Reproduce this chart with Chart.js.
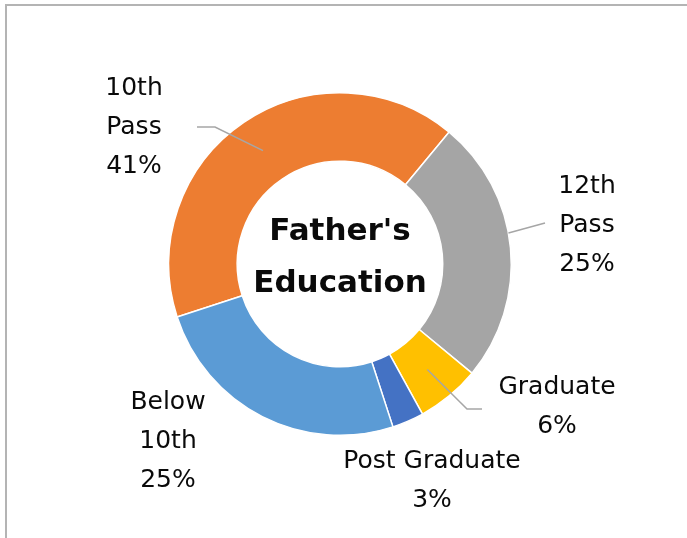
<!DOCTYPE html>
<html>
<head>
<meta charset="utf-8">
<script src="https://cdn.jsdelivr.net/npm/chart.js@4"></script>
<style>
  html, body { margin: 0; padding: 0; background: #fff; }
  #wrap { position: relative; width: 687px; height: 538px; overflow: hidden; }
  #frame { position: absolute; left: 5px; top: 4px; right: -10px; bottom: -10px;
           border-top: 2px solid #b4b4b4; border-left: 2px solid #b4b4b4; pointer-events: none; }
  canvas { position: absolute; left: 0; top: 0; }
</style>
</head>
<body>
<div id="wrap">
  <canvas id="c" width="687" height="538"></canvas>
  <div id="frame"></div>
</div>
<script>
const categories = ['10th Pass', '12th Pass', 'Graduate', 'Post Graduate', 'Below 10th'];
const shares = [41, 25, 6, 3, 25];
const labelLines = [['10th', 'Pass'], ['12th', 'Pass'], ['Graduate'], ['Post Graduate'], ['Below', '10th']];
const centerTitle = ["Father's", 'Education'];
const sliceColors = ['#ED7D31', '#A5A5A5', '#FFC000', '#4472C4', '#5B9BD5'];

const labelStyle = {
  titleFont: 'bold 31px "DejaVu Sans"',
  titleDx: 0, titleDy: -32, titleGap: 52,
  labelFont: '25px "DejaVu Sans"',
  lineGap: 39,
  positions: [[-206, -137], [247, -39], [217, 143], [92, 217], [-172, 177]],
  leaders: [
    { edge: false, shift: 0, pts: [[-125, -137], [-143, -137]] },
    { edge: true, shift: -5, pts: [[205, -41]] },
    { edge: false, shift: 0, pts: [[127, 145], [142, 145]] },
    null,
    null
  ]
};

const labelPlugin = {
  id: 'excelLabels',
  afterDraw(chart) {
    const opts = labelStyle;
    const ctx = chart.ctx;
    const meta = chart.getDatasetMeta(0);
    const total = shares.reduce((a, b) => a + b, 0);
    const cx = meta.data[0].x, cy = meta.data[0].y;
    ctx.save();
    ctx.fillStyle = '#0a0a0a';
    ctx.textAlign = 'center';
    ctx.textBaseline = 'middle';
    ctx.font = opts.titleFont;
    centerTitle.forEach((t, i) => {
      ctx.fillText(t, cx + opts.titleDx, cy + opts.titleDy + i * opts.titleGap);
    });
    ctx.strokeStyle = '#a6a6a6';
    ctx.lineWidth = 1.5;
    opts.leaders.forEach((ld, i) => {
      if (!ld) return;
      const arc = meta.data[i];
      const mid = (arc.startAngle + arc.endAngle) / 2 + ld.shift * Math.PI / 180;
      const r = ld.edge ? arc.outerRadius : (arc.innerRadius + arc.outerRadius) / 2;
      ctx.beginPath();
      ctx.moveTo(arc.x + Math.cos(mid) * r, arc.y + Math.sin(mid) * r);
      ld.pts.forEach(p => ctx.lineTo(cx + p[0], cy + p[1]));
      ctx.stroke();
    });
    ctx.font = opts.labelFont;
    ctx.fillStyle = '#0a0a0a';
    labelLines.forEach((lines, i) => {
      const pct = Math.round(shares[i] / total * 100) + '%';
      const all = lines.concat([pct]);
      const pos = opts.positions[i];
      const h = (all.length - 1) * opts.lineGap;
      all.forEach((t, k) => {
        ctx.fillText(t, cx + pos[0], cy + pos[1] - h / 2 + k * opts.lineGap);
      });
    });
    ctx.restore();
  }
};

new Chart(document.getElementById('c'), {
  type: 'doughnut',
  data: {
    labels: categories,
    datasets: [{
      data: shares,
      backgroundColor: sliceColors,
      borderColor: '#ffffff',
      borderWidth: 1.5,
      hoverOffset: 0
    }]
  },
  options: {
    responsive: false,
    animation: false,
    rotation: -108,
    cutout: '60%',
    layout: { padding: { top: 92, bottom: 102, left: 168, right: 175 } },
    plugins: {
      legend: { display: false },
      tooltip: { enabled: false }
    }
  },
  plugins: [labelPlugin]
});
</script>
</body>
</html>
